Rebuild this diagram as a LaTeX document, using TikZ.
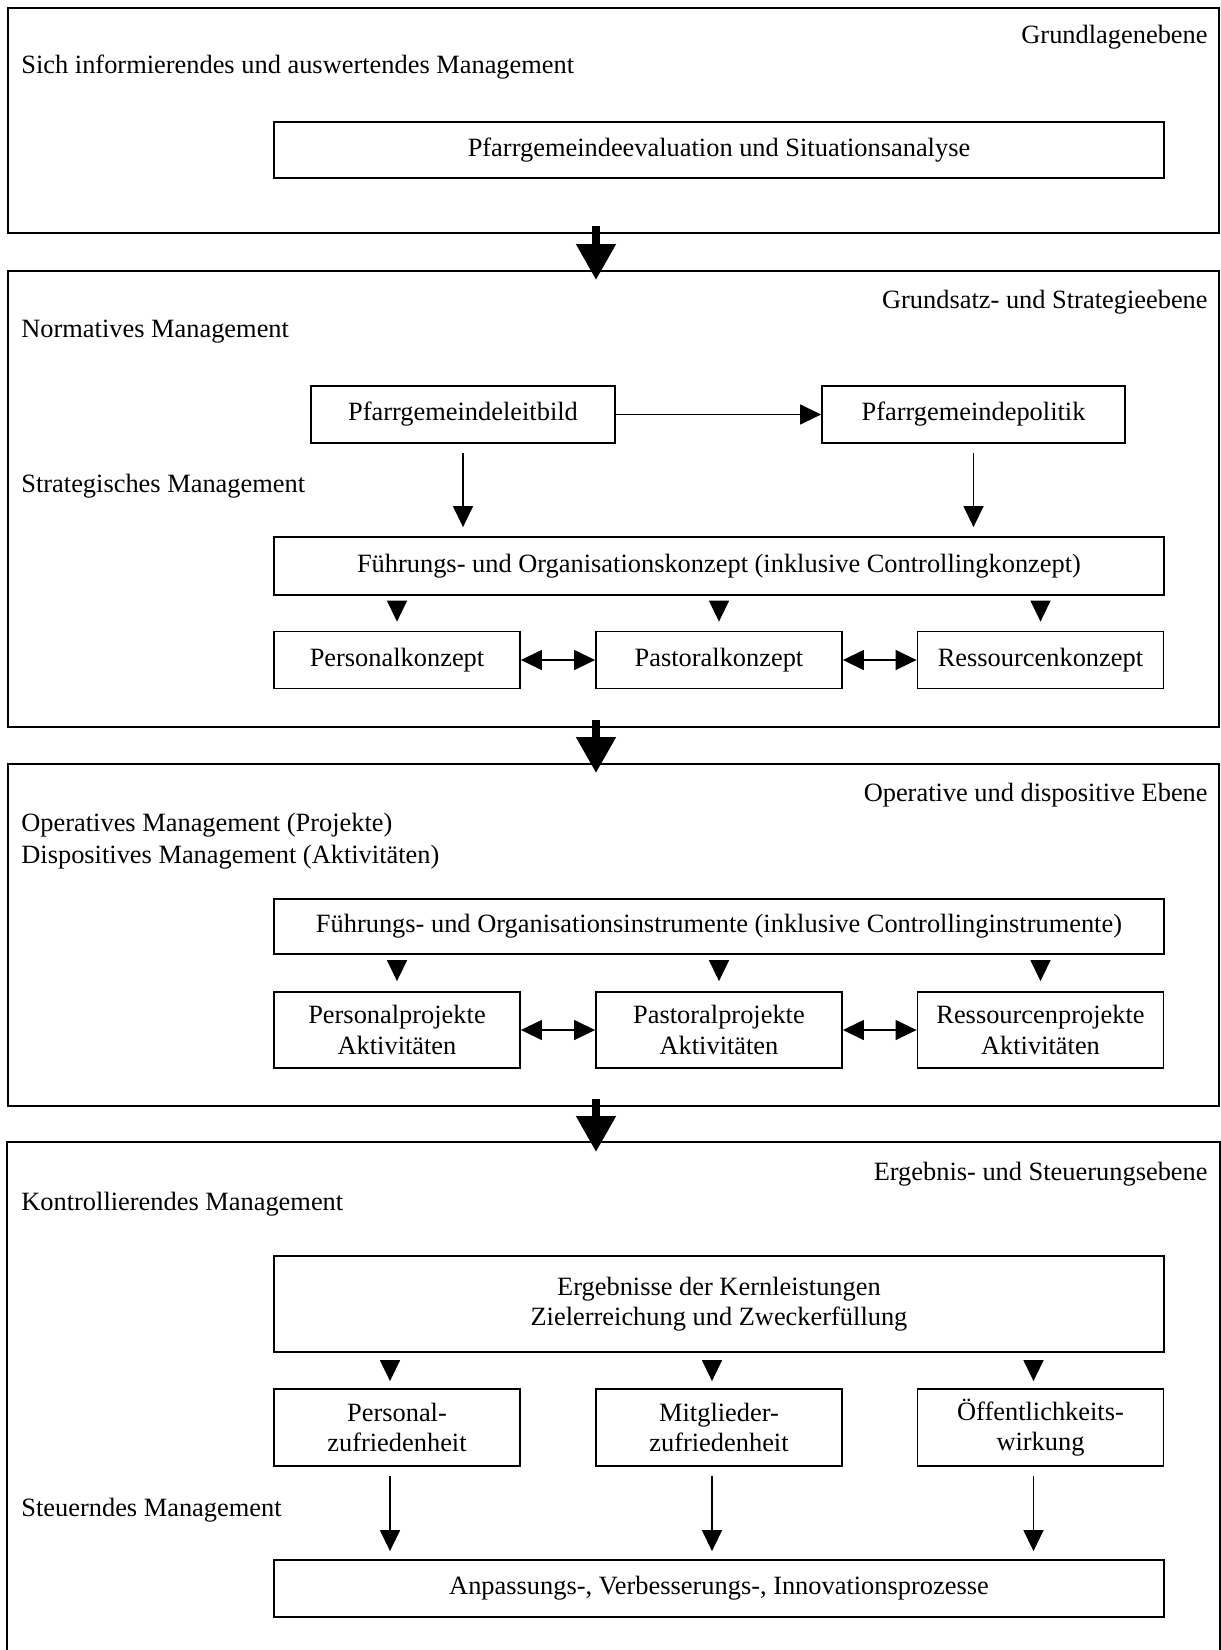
\documentclass[tikz,border=0pt]{standalone}
\usepackage{fontspec}
\setmainfont{Liberation Serif}
\usetikzlibrary{arrows.meta}
\begin{document}
\begin{tikzpicture}[x=0.5pt, y=-0.5pt,
  every node/.style={font=\fontsize{13.2}{15.2}\selectfont},
  rahmen/.style={line width=1pt, minimum width=605.5pt, inner sep=0pt},
  kasten/.style={draw, line width=0.9pt, align=center, inner sep=0pt},
  breit/.style={kasten, minimum width=445pt},
  klein/.style={kasten, minimum width=123pt},
  pfeil/.style={line width=0.7pt, -{Triangle[width=10pt,length=10.5pt]}},
  doppelpfeil/.style={line width=0.7pt, {Triangle[width=10pt,length=10.5pt]}-{Triangle[width=10pt,length=10.5pt]}},
  grosspfeil/.style={line width=4pt, -{Triangle[width=19pt,length=18pt]}},
  ebene/.style={anchor=east, inner sep=0pt},
  links/.style={anchor=west, inner sep=0pt}]
\useasboundingbox (0,0) rectangle (1221,1650);
% Rahmen der vier Ebenen
\node[rahmen, draw, minimum height=112.5pt] (o1) at (613.5,120.5) {};
\node[rahmen, draw, minimum height=228pt] (o2) at (613.5,499) {};
\node[rahmen, draw, minimum height=171pt] (o3) at (613.5,935) {};
\node[rahmen, minimum height=256pt] (o4) at (613.5,1399) {};
\draw[line width=1pt] (o4.south west) -- (o4.north west) -- (o4.north east) -- (o4.south east);
\foreach \a/\b in {o1/o2, o2/o3, o3/o4}{
\draw[grosspfeil] ([xshift=-8.75pt, yshift=4pt]\a.south) -- ([xshift=-8.75pt, yshift=-5pt]\b.north);
}
% Grundlagenebene
\node[ebene] (e1) at (1208,37) {Grundlagenebene};
\node[links] (m1) at (21,67) {Sich informierendes und auswertendes Management};
\node[breit, minimum height=28pt] (eval) at (719,150) {Pfarrgemeindeevaluation und Situationsanalyse};
% Grundsatz- und Strategieebene
\node[ebene] (e2) at (1208,302) {Grundsatz- und Strategieebene};
\node[links] (m2) at (21,332) {Normatives Management};
\node[links] (m3) at (21,486) {Strategisches Management};
\node[kasten, minimum width=152pt, minimum height=28.5pt] (leitbild) at (463,414.5) {Pfarrgemeindeleitbild};
\node[kasten, minimum width=151.5pt, minimum height=28.5pt] (politik) at (973.5,414.5) {Pfarrgemeindepolitik};
\node[breit, minimum height=29pt] (fkonzept) at (719,566) {Führungs- und Organisationskonzept (inklusive Controllingkonzept)};
\foreach \n/\x/\t in {pk/397/Personalkonzept, ak/719/Pastoralkonzept, rk/1040.5/Ressourcenkonzept}{
\node[klein, minimum height=28.5pt] (\n) at (\x,660) {\t};
\draw[pfeil, shorten <=4pt, shorten >=4.5pt] (\n.north |- fkonzept.south) -- (\n.north);
}
\draw[pfeil] (leitbild) -- (politik);
\foreach \n in {leitbild, politik}{
\draw[pfeil, shorten <=4.5pt, shorten >=4.5pt] (\n.south) -- (\n.south |- fkonzept.north);
}
\draw[doppelpfeil] (pk) -- (ak);
\draw[doppelpfeil] (ak) -- (rk);
% Operative und dispositive Ebene
\node[ebene] (e3) at (1208,795) {Operative und dispositive Ebene};
\node[links] (m4) at (21,825) {Operatives Management (Projekte)};
\node[links] (m5) at (21,857) {Dispositives Management (Aktivitäten)};
\node[breit, minimum height=27.5pt] (finstr) at (719,926.5) {Führungs- und Organisationsinstrumente (inklusive Controllinginstrumente)};
\foreach \n/\x/\t in {pp/397/{Personalprojekte\\Aktivitäten}, ap/719/{Pastoralprojekte\\Aktivitäten}, rp/1040.5/{Ressourcenprojekte\\Aktivitäten}}{
\node[klein, minimum height=38pt] (\n) at (\x,1030) {\t};
\draw[pfeil, shorten <=3.5pt, shorten >=5pt] (\n.north |- finstr.south) -- (\n.north);
}
\draw[doppelpfeil] (pp) -- (ap);
\draw[doppelpfeil] (ap) -- (rp);
% Ergebnis- und Steuerungsebene
\node[ebene] (e4) at (1208,1174) {Ergebnis- und Steuerungsebene};
\node[links] (m6) at (21,1204) {Kontrollierendes Management};
\node[links] (m7) at (21,1510) {Steuerndes Management};
\node[breit, minimum height=48pt] (erg) at (719,1304) {Ergebnisse der Kernleistungen\\Zielerreichung und Zweckerfüllung};
\node[breit, minimum height=28.5pt] (anp) at (719,1588.5) {Anpassungs-, Verbesserungs-, Innovationsprozesse};
\foreach \n/\x/\t in {pz/397/{Personal-\\zufriedenheit}, mz/719/{Mitglieder-\\zufriedenheit}, oe/1040.5/{Öffentlichkeits-\\wirkung}}{
\node[klein, minimum height=38.5pt] (\n) at (\x,1427.5) {\t};
\draw[pfeil, shorten <=4pt, shorten >=3.5pt] ([xshift=-3.5pt]\n.north |- erg.south) -- ([xshift=-3.5pt]\n.north);
\draw[pfeil, shorten <=4.5pt, shorten >=4pt] ([xshift=-3.5pt]\n.south) -- ([xshift=-3.5pt]\n.south |- anp.north);
}
\end{tikzpicture}
\end{document}
